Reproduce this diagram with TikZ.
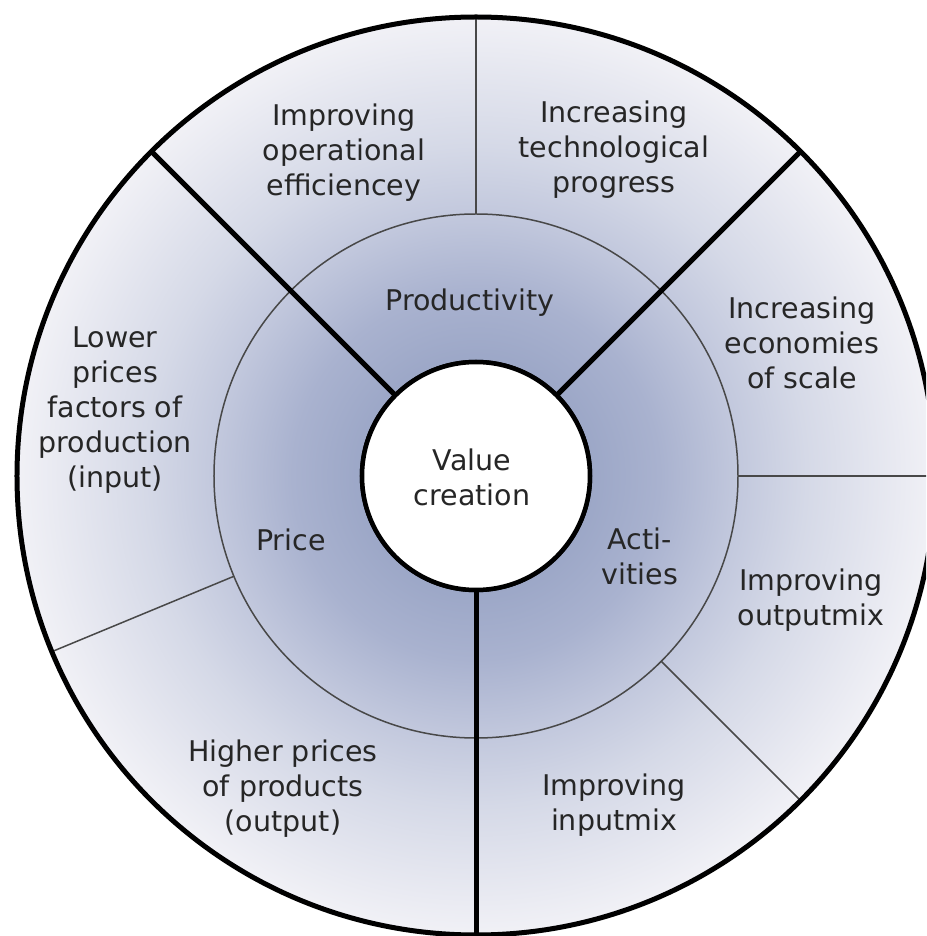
\documentclass[tikz,border=0pt]{standalone}
\usepackage{fontspec}
\setmainfont{DejaVu Sans}
\definecolor{c0}{HTML}{98A3C4}
\definecolor{c1}{HTML}{9CA7C7}
\definecolor{c2}{HTML}{A9B2CF}
\definecolor{c3}{HTML}{C2C8DD}
\definecolor{c4}{HTML}{D5D9E7}
\definecolor{c5}{HTML}{E2E4EE}
\definecolor{c6}{HTML}{F1F1F6}
\definecolor{txtgray}{HTML}{262626}
\definecolor{thingray}{HTML}{484848}
\pgfdeclareradialshading{vcshade}{\pgfpoint{0bp}{0bp}}{color(0bp)=(c0); color(6.25bp)=(c1); color(10bp)=(c2); color(14.25bp)=(c3); color(18bp)=(c4); color(21.25bp)=(c5); color(25bp)=(c6); color(50bp)=(c6)}
\tikzset{
  label/.style={align=center, text=txtgray, font=\fontsize{28.5}{35}\selectfont, inner sep=0pt},
  spoke/.style={line width=5pt, black},
  thinline/.style={line width=1.5pt, thingray},
  rim/.style={line width=5pt, black},
  vcnode/.style={circle, draw=black, line width=4.5pt, fill=white, minimum size=228pt, inner sep=0pt}
}
\begin{document}
\begin{tikzpicture}[x=1pt,y=1pt]
\useasboundingbox (-476,-460) rectangle (450,476);
\clip (-476,-460) rectangle (450,476);
\fill[white] (-476,-460) rectangle (450,476);
\shade[shading=vcshade] (0,0) circle (459);
\draw[thinline] (0,0) circle (262);
% coordinates on rings
\coordinate (m0) at (0:262);
\coordinate (o0) at (0:459);
\coordinate (m90) at (90:262);
\coordinate (o90) at (90:459);
\coordinate (m202) at (202.5:262);
\coordinate (o202) at (202.5:459);
\coordinate (m315) at (315:262);
\coordinate (o315) at (315:459);
\coordinate (o45) at (45:459);
\coordinate (o135) at (135:459);
\coordinate (o270) at (270:459);
\draw[thinline] (m0) -- (o0);
\draw[thinline] (m90) -- (o90);
\draw[thinline] (m202) -- (o202);
\draw[thinline] (m315) -- (o315);
\draw[rim] (0,0) circle (459);
\node[vcnode] (vc) at (0,0) {};
\draw[spoke] (vc.45) -- (o45);
\draw[spoke] (vc.135) -- (o135);
\draw[spoke] (vc.270) -- (o270);
\node[vcnode] (vc2) at (0,0) {};
\node[label] (vct) at (-4,-1) {Value\\creation};
\node[label] (eff) at (-132,323) {Improving\\operational\\efficiencey};
\node[label] (tech) at (138,326) {Increasing\\technological\\progress};
\node[label] (prod) at (-6,173) {Productivity};
\node[label] (econ) at (326,133) {Increasing\\economies\\of scale};
\node[label] (lower) at (-361,66) {Lower\\prices\\factors of\\production\\(input)};
\node[label] (price) at (-185,-64) {Price};
\node[label] (acti) at (164,-80) {Acti-\\vities};
\node[label] (outmix) at (335,-124) {Improving\\outputmix};
\node[label] (higher) at (-193,-313) {Higher prices\\of products\\(output)};
\node[label] (inmix) at (138,-329) {Improving\\inputmix};
\end{tikzpicture}
\end{document}
